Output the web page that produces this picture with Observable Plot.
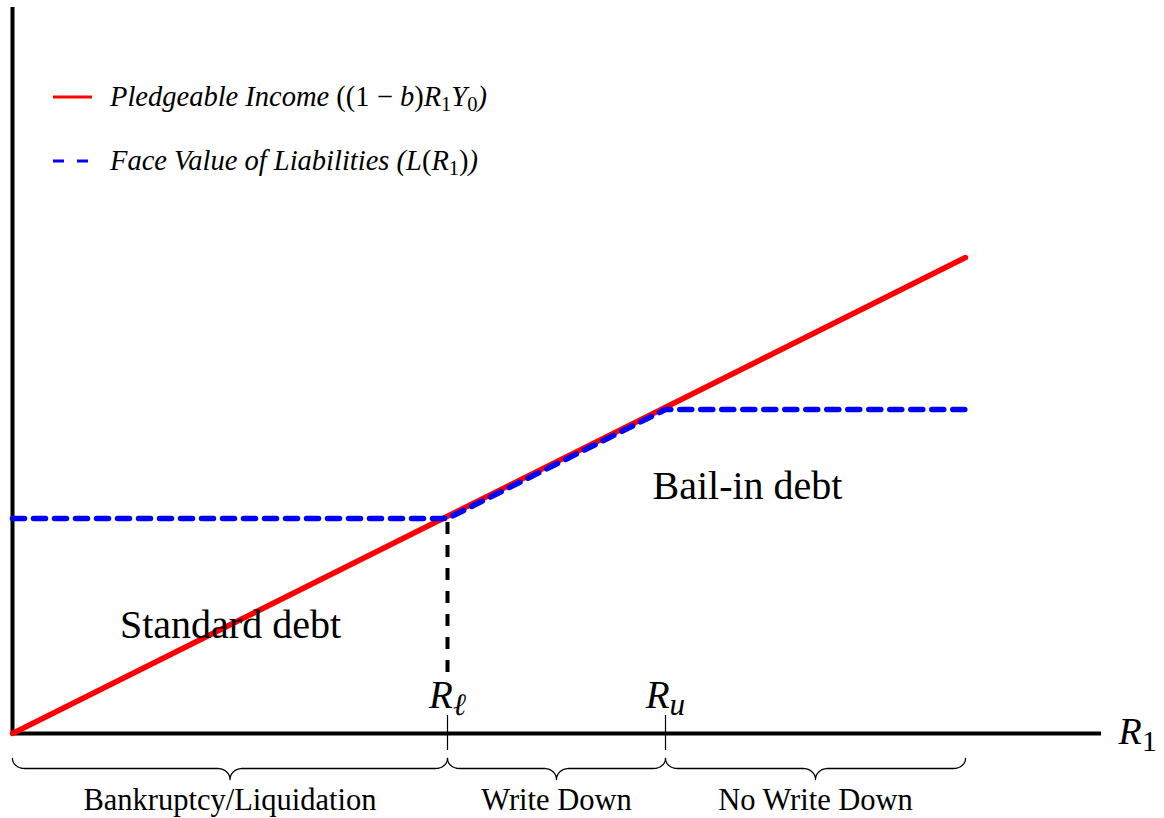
<!DOCTYPE html>
<html><head><meta charset="utf-8">
<script src="https://cdn.jsdelivr.net/npm/d3@7"></script>
<script src="https://cdn.jsdelivr.net/npm/@observablehq/plot@0.6"></script>
<style>
body{margin:0;background:#fff}
#wrap{position:relative;width:1164px;height:818px}
#legend{position:absolute;left:0;top:0}
</style>
</head><body><div id="wrap"></div>
<script>
// ---- data (units: R1 on x, value on y) ----
const R_l = 4.35, R_u = 6.53, R_max = 9.53;
const axisXEnd = 10.89, axisYTop = 7.26;
const pledgeable = [{x: 0, y: 0}, {x: 9.53, y: 4.76}];
const liabilities = [{x: 0, y: 2.15}, {x: 4.35, y: 2.15}, {x: 6.53, y: 3.24}, {x: 9.53, y: 3.24}];
const thresholds = [{label: "R_ℓ", x: R_l}, {label: "R_u", x: R_u}];
const regions = [
  {label: "Bankruptcy/Liquidation", a: 0, b: R_l},
  {label: "Write Down", a: R_l, b: R_u},
  {label: "No Write Down", a: R_u, b: R_max}
];
const debtLabels = [
  {label: "Standard debt", x: 2.18, y: 0.96},
  {label: "Bail-in debt", x: 7.35, y: 2.35}
];
const legendItems = [
  {color: "#ff0000", dash: null,
   parts: [["Pledgeable Income ", "i"], ["((1 − ", "n"], ["b", "i"], [")", "n"], ["R", "i"], ["1", "s"], ["Y", "i"], ["0", "s"], [")", "i"]]},
  {color: "#0000ff", dash: "11,13",
   parts: [["Face Value of Liabilities ", "i"], ["(", "i"], ["L", "i"], ["(", "n"], ["R", "i"], ["1", "s"], [")", "n"], [")", "i"]]}
];

// ---- brace geometry from the region intervals ----
function brace(a, b, z) {
  const top = -0.25, mid = -0.35, tip = -0.46, r = 0.12, n = 14;
  const m = (a + b) / 2, pts = [];
  for (let i = 0; i <= n; i++) { const t = i / n * Math.PI / 2;
    pts.push({x: a + r * (1 - Math.cos(t)), y: mid + (top - mid) * (1 - Math.sin(t)), z}); }
  for (let i = 0; i <= n; i++) { const t = i / n * Math.PI / 2;
    pts.push({x: m - r + r * Math.sin(t), y: mid + (tip - mid) * (1 - Math.cos(t)), z}); }
  for (let i = n; i >= 0; i--) { const t = i / n * Math.PI / 2;
    pts.push({x: m + r - r * Math.sin(t), y: mid + (tip - mid) * (1 - Math.cos(t)), z}); }
  for (let i = n; i >= 0; i--) { const t = i / n * Math.PI / 2;
    pts.push({x: b - r * (1 - Math.cos(t)), y: mid + (top - mid) * (1 - Math.sin(t)), z}); }
  return pts;
}
const bracePts = regions.flatMap((d, i) => brace(d.a, d.b, i));

const serif = "Liberation Serif, Times New Roman, serif";

const svg = Plot.plot({
  width: 1164, height: 818,
  marginLeft: 0, marginRight: 0, marginTop: 0, marginBottom: 0,
  x: {domain: [-0.12, 11.52], axis: null},
  y: {domain: [-0.85, 7.33], axis: null},
  style: {background: "white"},
  marks: [
    Plot.ruleX([0], {y1: 0, y2: axisYTop, stroke: "black", strokeWidth: 4}),
    Plot.ruleY([0], {x1: 0, x2: axisXEnd, stroke: "black", strokeWidth: 4}),
    Plot.ruleX(thresholds, {x: "x", y1: 0.18, y2: -0.17, stroke: "black", strokeWidth: 1.2}),
    Plot.ruleX([R_l], {y1: liabilities[1].y - 0.04, y2: 0.53, stroke: "black", strokeWidth: 4, strokeDasharray: "12,11"}),
    Plot.line(pledgeable, {x: "x", y: "y", stroke: "#ff0000", strokeWidth: 5.5}),
    Plot.line(liabilities, {x: "x", y: "y", stroke: "#0000ff", strokeWidth: 5.5, strokeDasharray: "12,9"}),
    Plot.line(bracePts, {x: "x", y: "y", z: "z", stroke: "black", strokeWidth: 1.3}),
    Plot.text(regions, {x: d => (d.a + d.b) / 2, y: -0.76, text: "label", fontSize: 30.5, fontFamily: serif, lineAnchor: "bottom", fill: "black"}),
    Plot.text(debtLabels, {x: "x", y: "y", text: "label", fontSize: 40, fontFamily: serif, lineAnchor: "bottom", fill: "black"}),
    Plot.text(thresholds, {x: "x", y: 0.26, text: "label", fontSize: 39, fontFamily: serif, fontStyle: "italic", lineAnchor: "bottom", fill: "black"}),
    Plot.text(["R_1"], {x: 11.06, y: -0.1, text: d => d, fontSize: 38, fontFamily: serif, fontStyle: "italic", textAnchor: "start", lineAnchor: "bottom", fill: "black"})
  ]
});

// subscripts
d3.select(svg).selectAll("text").each(function () {
  const s = this.textContent;
  if (!s.includes("_")) return;
  const [base, sub] = s.split("_");
  const t = d3.select(this); t.text(null);
  t.append("tspan").text(base);
  t.append("tspan").attr("dy", "0.25em").attr("font-size", "0.8em")
    .attr("font-style", /\d/.test(sub) ? "normal" : "italic").text(sub);
});

const wrap = document.getElementById("wrap");
wrap.appendChild(svg);

// legend overlay
const leg = d3.select(wrap).append("svg").attr("id", "legend").attr("width", 600).attr("height", 200);
const rowY = [97, 161];
legendItems.forEach((item, i) => {
  const y = rowY[i];
  leg.append("line").attr("x1", 53).attr("x2", 92).attr("y1", y).attr("y2", y)
    .attr("stroke", item.color).attr("stroke-width", 3)
    .attr("stroke-dasharray", item.dash);
  const t = leg.append("text").attr("x", 110).attr("y", y + 9)
    .attr("font-family", serif).attr("font-size", 28.5).attr("fill", "black");
  let shifted = false;
  item.parts.forEach(([txt, st]) => {
    const ts = t.append("tspan").text(txt);
    if (st === "s") { ts.attr("font-size", "0.72em").attr("dy", 5).attr("font-style", "normal"); shifted = true; }
    else { if (shifted) { ts.attr("dy", -5); shifted = false; }
      ts.attr("font-style", st === "i" ? "italic" : "normal"); }
  });
});
</script>
</body></html>
